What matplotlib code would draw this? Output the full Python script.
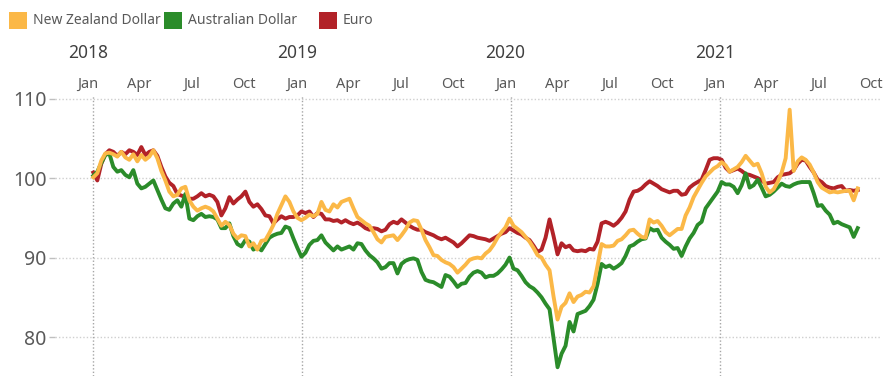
import datetime as dt

import matplotlib
matplotlib.use('Agg')
import matplotlib.pyplot as plt
import matplotlib.dates as mdates
import matplotlib.transforms as mtransforms
from matplotlib.patches import Rectangle
import pandas as pd

# weekly index values, first week of Jan 2018 = 100
start_date = '2018-01-01'

nzd = [100.1, 100.6, 102.2, 103.1, 103.2, 103.0, 102.7, 103.3, 102.6, 102.3,
       103.0, 102.1, 102.9, 102.3, 102.7, 103.5, 102.5, 100.9, 99.7, 98.3,
       97.7, 97.9, 98.7, 98.9, 97.2, 96.4, 95.9, 96.2, 96.4, 96.2,
       95.8, 94.9, 94.0, 94.5, 94.1, 93.0, 92.4, 92.8, 92.7, 91.4,
       91.8, 91.0, 92.1, 92.2, 93.1, 94.1, 95.5, 96.6, 97.7, 97.0,
       95.8, 95.0, 94.7, 95.0, 95.4, 95.2, 95.5, 97.0, 96.0, 95.8,
       96.7, 96.3, 97.0, 97.2, 97.4, 96.2, 95.1, 94.7, 94.3, 94.0,
       93.2, 92.3, 91.9, 92.6, 92.7, 92.8, 92.2, 92.8, 93.5, 94.4,
       94.7, 94.6, 93.5, 92.2, 91.3, 90.3, 90.2, 89.7, 89.4, 89.2,
       88.8, 88.1, 88.6, 89.1, 89.7, 89.9, 90.0, 89.9, 90.5, 90.9,
       91.6, 92.5, 93.2, 93.8, 94.9, 94.0, 93.6, 93.2, 92.6, 92.0,
       91.2, 90.3, 90.0, 89.1, 88.4, 85.1, 82.2, 83.8, 84.3, 85.5,
       84.4, 85.1, 85.3, 85.7, 85.6, 86.4, 89.0, 91.7, 91.4, 91.4,
       91.5, 92.1, 92.3, 92.8, 93.4, 93.5, 93.0, 92.6, 92.5, 94.8,
       94.4, 94.6, 94.0, 93.2, 92.8, 93.2, 93.6, 93.6, 95.3, 96.3,
       97.6, 98.5, 99.4, 100.2, 100.7, 101.2, 101.5, 102.0, 101.6, 100.8,
       101.1, 101.4, 102.0, 102.8, 102.2, 101.6, 101.8, 100.6, 98.9, 98.2,
       98.6, 99.5, 100.7, 102.5, 108.6, 100.9, 102.1, 102.6, 102.3, 101.7,
       100.7, 99.5, 98.8, 98.5, 98.2, 98.3, 98.2, 98.3, 98.4, 98.4,
       97.2, 98.7]

aud = [100.3, 100.8, 101.9, 102.9, 103.1, 101.4, 100.8, 101.0, 100.4, 100.1,
       101.0, 99.3, 98.7, 98.9, 99.3, 99.7, 98.5, 97.3, 96.2, 96.0,
       96.8, 97.2, 96.4, 98.0, 94.9, 94.7, 95.2, 95.5, 95.1, 95.2,
       95.1, 94.8, 93.7, 93.7, 94.3, 92.7, 91.7, 91.4, 92.2, 92.0,
       91.0, 91.3, 90.9, 91.7, 92.5, 92.8, 93.0, 93.1, 93.9, 93.7,
       92.4, 91.2, 90.1, 90.6, 91.6, 92.1, 92.2, 92.8, 91.9, 91.4,
       90.9, 91.4, 91.0, 91.2, 91.4, 91.0, 91.8, 91.7, 90.9, 90.3,
       89.9, 89.4, 88.6, 88.8, 89.3, 89.3, 88.0, 89.2, 89.6, 89.8,
       89.9, 89.7, 88.2, 87.2, 87.0, 86.9, 86.6, 86.3, 87.8, 87.6,
       87.0, 86.3, 86.7, 86.8, 87.6, 88.1, 88.3, 88.1, 87.5, 87.7,
       87.7, 88.0, 88.5, 89.1, 90.0, 88.6, 88.4, 87.7, 86.9, 86.4,
       86.1, 85.6, 85.0, 84.2, 83.5, 79.8, 76.2, 77.9, 78.9, 81.9,
       80.7, 82.9, 83.1, 83.3, 83.9, 84.7, 86.7, 89.2, 88.8, 89.0,
       88.6, 88.9, 89.3, 90.2, 91.4, 91.6, 92.0, 92.3, 92.4, 93.7,
       93.4, 93.5, 92.5, 92.0, 91.6, 91.1, 91.2, 90.2, 91.4, 92.4,
       93.1, 94.1, 94.5, 96.2, 96.9, 97.6, 98.3, 99.5, 99.2, 99.2,
       98.9, 98.1, 99.1, 100.6, 98.8, 99.1, 99.8, 98.8, 97.7, 97.9,
       98.3, 98.8, 99.3, 99.0, 98.9, 99.2, 99.4, 99.5, 99.5, 99.5,
       98.1, 96.5, 96.6, 95.9, 95.4, 94.3, 94.5, 94.2, 94.0, 93.8,
       92.6, 93.7]

eur = [100.7, 99.7, 101.8, 103.0, 103.5, 103.3, 102.8, 103.3, 103.0, 103.5,
       103.3, 102.9, 103.9, 102.9, 103.3, 103.5, 102.8, 101.4, 100.2, 99.4,
       99.0, 98.0, 97.8, 97.6, 97.4, 97.4, 97.7, 98.1, 97.7, 97.9,
       97.7, 97.0, 95.3, 96.2, 97.6, 96.8, 97.3, 97.7, 98.3, 97.0,
       96.4, 96.7, 96.1, 95.3, 95.2, 94.3, 94.8, 95.2, 94.9, 95.1,
       95.1, 95.3, 95.8, 95.6, 95.8, 95.1, 95.6, 95.5, 94.8, 94.8,
       94.6, 94.7, 94.4, 94.7, 94.4, 94.2, 94.4, 94.1, 93.7, 93.5,
       93.7, 93.6, 93.3, 93.5, 94.2, 94.5, 94.3, 94.8, 94.4, 94.0,
       93.7, 93.5, 93.5, 93.2, 93.0, 92.8, 92.5, 92.3, 92.5, 92.2,
       91.9, 91.4, 91.8, 92.3, 92.8, 92.7, 92.5, 92.4, 92.3, 92.1,
       92.4, 92.7, 93.0, 93.2, 93.7, 93.4, 93.1, 92.9, 92.5, 92.2,
       91.5, 90.7, 91.0, 92.5, 94.8, 92.7, 90.4, 91.8, 91.3, 91.5,
       90.9, 90.8, 90.9, 90.8, 91.1, 91.0, 92.0, 94.3, 94.5, 94.3,
       94.0, 94.4, 95.0, 95.8, 97.3, 98.3, 98.4, 98.7, 99.2, 99.6,
       99.3, 99.0, 98.6, 98.4, 98.2, 98.4, 98.4, 97.9, 98.0, 98.8,
       99.2, 99.5, 99.8, 101.0, 102.3, 102.5, 102.5, 102.3, 101.3, 100.8,
       101.0, 101.2, 100.9, 100.5, 100.4, 100.2, 100.0, 99.7, 99.3, 99.4,
       99.5, 100.1, 100.4, 100.5, 100.6, 101.0, 101.8, 102.3, 102.2, 101.4,
       100.7, 99.8, 99.5, 99.0, 98.8, 98.7, 98.9, 99.0, 98.4, 98.5,
       98.4, 98.5]

series_names = ['New Zealand Dollar', 'Australian Dollar', 'Euro']
series_colors = ['#FBB847', '#2B8C2A', '#B22228']
y_ticks = [80, 90, 100, 110]
years = [2018, 2019, 2020, 2021]
month_names = ['Jan', 'Apr', 'Jul', 'Oct']

dates = pd.date_range(start_date, periods=len(nzd), freq='7D')

text_color = '#595959'
plt.rcParams['font.family'] = ['Noto Sans', 'DejaVu Sans']

fig = plt.figure(figsize=(8.92, 3.76), dpi=100)
ax = fig.add_axes([55 / 892, 0.0, 825 / 892, 281 / 376])

# draw order: euro, aud, nzd on top
ax.plot(dates, eur, color=series_colors[2], lw=2.8, solid_joinstyle='round', zorder=3)
ax.plot(dates, aud, color=series_colors[1], lw=2.8, solid_joinstyle='round', zorder=4)
ax.plot(dates, nzd, color=series_colors[0], lw=2.8, solid_joinstyle='round', zorder=5)

t0 = pd.Timestamp(start_date)
ax.set_xlim(t0 - pd.Timedelta(days=67), t0 + pd.Timedelta(days=1376))
ax.set_ylim(75.1, 110.45)

for spine in ax.spines.values():
    spine.set_visible(False)

ax.set_yticks(y_ticks)
ax.set_yticklabels([str(v) for v in y_ticks])
ax.tick_params(axis='y', length=4, width=1, color='#BFBFBF', labelsize=14,
               labelcolor=text_color, pad=2)
ax.set_xticks([])
for v in y_ticks:
    ax.axhline(v, color='#CFCFCF', lw=1, ls=(0, (1, 1.5)), zorder=1)

# vertical year dividers and top labels
lab_tr = mtransforms.blended_transform_factory(ax.transData, ax.transAxes)
for yr in years:
    ax.axvline(pd.Timestamp(yr, 1, 1), color='#A6A6A6', lw=1, ls=(0, (1, 1.5)), zorder=1)
    ax.text(pd.Timestamp(yr, 1, 1) - pd.Timedelta(days=9), 1.149, str(yr),
            transform=lab_tr, ha='center', va='center', fontsize=12.5, color='#404040')
    for i, m in enumerate(month_names):
        ax.text(pd.Timestamp(yr, 1 + 3 * i, 1) - pd.Timedelta(days=9), 1.039, m,
                transform=lab_tr, ha='center', va='center', fontsize=10.5, color=text_color)

# legend: fixed width columns
for i, (name, col) in enumerate(zip(series_names, series_colors)):
    x0 = (9 + 155 * i) / 892
    fig.patches.append(Rectangle((x0, 1 - 29 / 376), 18 / 892, 17 / 376,
                                 transform=fig.transFigure, facecolor=col,
                                 edgecolor='none'))
    fig.text(x0 + 24 / 892, 1 - 21 / 376, name, ha='left', va='center',
             fontsize=10, color=text_color)

fig.savefig('out.png', dpi=100)
